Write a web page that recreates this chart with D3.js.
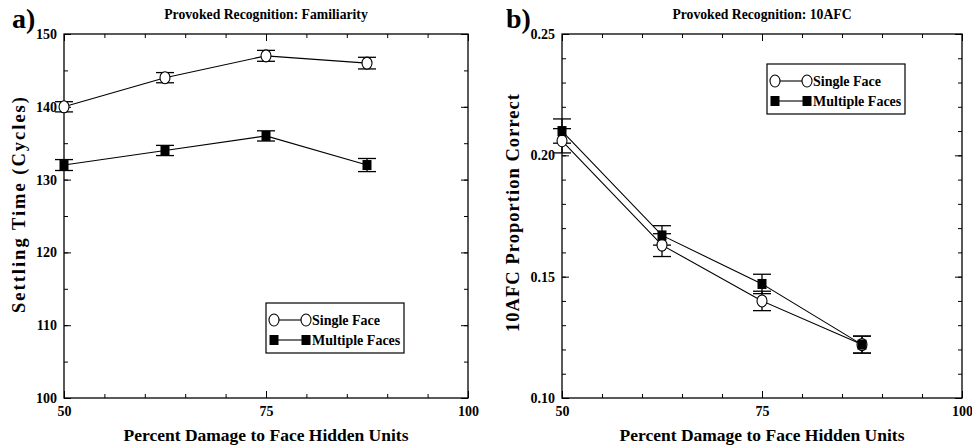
<!DOCTYPE html>
<html>
<head>
<meta charset="utf-8">
<script src="https://cdn.jsdelivr.net/npm/d3@7"></script>
<style>
  body { margin: 0; background: #fff; }
  svg text { font-family: "Liberation Serif", "Times New Roman", serif; font-weight: bold; fill: #000; }
  .axis path { display: none; }
  .axis line { stroke: #000; stroke-width: 1; }
  .axis text { font-size: 14px; }
</style>
</head>
<body>
<div id="chart"></div>
<script>
// x values (percent damage)
var damage = [50, 62.5, 75, 87.5];

// panel a: settling time
var famSingle = [140, 144, 147, 146];
var famSingleErr = [0.7, 0.7, 0.75, 0.8];
var famMultiple = [132, 134, 136, 132];
var famMultipleErr = [0.75, 0.7, 0.7, 0.9];

// panel b: 10AFC proportion correct
var afcSingle = [0.206, 0.163, 0.140, 0.122];
var afcSingleErr = [0.005, 0.0047, 0.004, 0.0035];
var afcMultiple = [0.210, 0.167, 0.147, 0.122];
var afcMultipleErr = [0.005, 0.004, 0.004, 0.0035];

var xTicks = [50, 75, 100];
var famTicks = [100, 110, 120, 130, 140, 150];
var afcTicks = [0.10, 0.15, 0.20, 0.25];
var seriesNames = ["Single Face", "Multiple Faces"];

var width = 972, height = 447;

var svg = d3.select("#chart")
    .append("svg")
    .attr("width", width)
    .attr("height", height);

function panel(opt) {
    var left = opt.left, right = opt.right, top = 34, bottom = 398;
    var g = svg.append("g");

    var x = d3.scaleLinear().domain([50, 100]).range([left, right]);
    var y = d3.scaleLinear().domain(opt.yDomain).range([bottom, top]);

    var minorX = d3.range(50, 100.01, 5);
    var minorY = d3.range(opt.yDomain[0], opt.yDomain[1] + opt.minorStep / 2, opt.minorStep);

    // frame
    g.append("rect")
        .attr("x", left).attr("y", top)
        .attr("width", right - left).attr("height", bottom - top)
        .attr("fill", "none").attr("stroke", "#000").attr("stroke-width", 1.3);

    // minor ticks, all four sides, pointing inward
    g.append("g").attr("class", "axis")
        .attr("transform", `translate(0,${bottom})`)
        .call(d3.axisBottom(x).tickValues(minorX).tickSize(-4).tickFormat(""));
    g.append("g").attr("class", "axis")
        .attr("transform", `translate(0,${top})`)
        .call(d3.axisTop(x).tickValues(minorX).tickSize(-4).tickFormat(""));
    g.append("g").attr("class", "axis")
        .attr("transform", `translate(${left},0)`)
        .call(d3.axisLeft(y).tickValues(minorY).tickSize(-4).tickFormat(""));
    g.append("g").attr("class", "axis")
        .attr("transform", `translate(${right},0)`)
        .call(d3.axisRight(y).tickValues(minorY).tickSize(-4).tickFormat(""));

    // major ticks with labels
    g.append("g").attr("class", "axis")
        .attr("transform", `translate(0,${bottom})`)
        .call(d3.axisBottom(x).tickValues(xTicks).tickSize(-7).tickPadding(5).tickFormat(d3.format("d")))
        .selectAll("text").attr("dy", "0.95em");
    g.append("g").attr("class", "axis")
        .attr("transform", `translate(0,${top})`)
        .call(d3.axisTop(x).tickValues(xTicks).tickSize(-7).tickFormat(""));
    g.append("g").attr("class", "axis")
        .attr("transform", `translate(${left},0)`)
        .call(d3.axisLeft(y).tickValues(opt.yTicks).tickSize(-7).tickPadding(7).tickFormat(opt.yFormat));
    g.append("g").attr("class", "axis")
        .attr("transform", `translate(${right},0)`)
        .call(d3.axisRight(y).tickValues(opt.yTicks).tickSize(-7).tickFormat(""));

    // titles
    g.append("text")
        .attr("x", (left + right) / 2).attr("y", 19)
        .attr("text-anchor", "middle").attr("font-size", 13.7)
        .text(opt.title);
    g.append("text")
        .attr("x", opt.labelX).attr("y", 28)
        .attr("font-size", 28)
        .text(opt.label);
    g.append("text")
        .attr("x", (left + right) / 2).attr("y", 441)
        .attr("text-anchor", "middle").attr("font-size", 17.5)
        .text("Percent Damage to Face Hidden Units");
    g.append("text")
        .attr("transform", `translate(${opt.yTitleX},${opt.yTitleY}) rotate(-90)`)
        .attr("text-anchor", "middle").attr("font-size", 18.5)
        .attr("textLength", opt.yTitleLen).attr("lengthAdjust", "spacing")
        .text(opt.yTitle);

    var line = d3.line().x(d => x(d.x)).y(d => y(d.y));
    var series = opt.series.map(s => damage.map((d, i) => ({x: d, y: s.values[i], e: s.err[i]})));

    series.forEach(function(pts, k) {
        g.append("path")
            .datum(pts)
            .attr("d", line)
            .attr("fill", "none").attr("stroke", "#000").attr("stroke-width", 1.1);
    });

    series.forEach(function(pts, k) {
        var eb = g.append("g").selectAll("g").data(pts).enter().append("g")
            .attr("stroke", "#000").attr("stroke-width", 1.3);
        eb.append("line")
            .attr("x1", d => x(d.x)).attr("x2", d => x(d.x))
            .attr("y1", d => y(d.y - d.e)).attr("y2", d => y(d.y + d.e));
        eb.append("line")
            .attr("x1", d => x(d.x) - 9).attr("x2", d => x(d.x) + 9)
            .attr("y1", d => y(d.y - d.e)).attr("y2", d => y(d.y - d.e));
        eb.append("line")
            .attr("x1", d => x(d.x) - 9).attr("x2", d => x(d.x) + 9)
            .attr("y1", d => y(d.y + d.e)).attr("y2", d => y(d.y + d.e));
    });

    series.forEach(function(pts, k) {
        drawMarkers(g, pts.map(d => [x(d.x), y(d.y)]), k);
    });

    // legend
    var lg = g.append("g").attr("transform", `translate(${opt.legend[0]},${opt.legend[1]})`);
    lg.append("rect")
        .attr("width", 138).attr("height", 50)
        .attr("fill", "#fff").attr("stroke", "#000").attr("stroke-width", 1.2);
    seriesNames.forEach(function(name, k) {
        var yy = 17 + k * 20;
        lg.append("line")
            .attr("x1", 8).attr("x2", 40).attr("y1", yy).attr("y2", yy)
            .attr("stroke", "#000").attr("stroke-width", 1.1);
        drawMarkers(lg, [[8, yy], [40, yy]], k);
        lg.append("text")
            .attr("x", 46).attr("y", yy + 5)
            .attr("font-size", 14)
            .text(name);
    });
}

function drawMarkers(g, pts, k) {
    if (k === 0) {
        g.append("g").selectAll("ellipse").data(pts).enter().append("ellipse")
            .attr("cx", d => d[0]).attr("cy", d => d[1])
            .attr("rx", 5).attr("ry", 6)
            .attr("fill", "#fff").attr("stroke", "#000").attr("stroke-width", 1.1);
    } else {
        g.append("g").selectAll("rect").data(pts).enter().append("rect")
            .attr("x", d => d[0] - 4.5).attr("y", d => d[1] - 5)
            .attr("width", 9).attr("height", 10)
            .attr("fill", "#000");
    }
}

panel({
    left: 64, right: 468,
    yDomain: [100, 150], minorStep: 5,
    yTicks: famTicks, yFormat: d3.format("d"),
    title: "Provoked Recognition: Familiarity",
    label: "a)", labelX: 12,
    yTitle: "Settling Time (Cycles)", yTitleX: 25, yTitleY: 205, yTitleLen: 216,
    legend: [266, 303],
    series: [
        {values: famSingle, err: famSingleErr},
        {values: famMultiple, err: famMultipleErr}
    ]
});

panel({
    left: 562, right: 962,
    yDomain: [0.10, 0.25], minorStep: 0.01,
    yTicks: afcTicks, yFormat: d3.format(".2f"),
    title: "Provoked Recognition: 10AFC",
    label: "b)", labelX: 506,
    yTitle: "10AFC Proportion Correct", yTitleX: 519, yTitleY: 213, yTitleLen: 238,
    legend: [767, 64],
    series: [
        {values: afcSingle, err: afcSingleErr},
        {values: afcMultiple, err: afcMultipleErr}
    ]
});
</script>
</body>
</html>
